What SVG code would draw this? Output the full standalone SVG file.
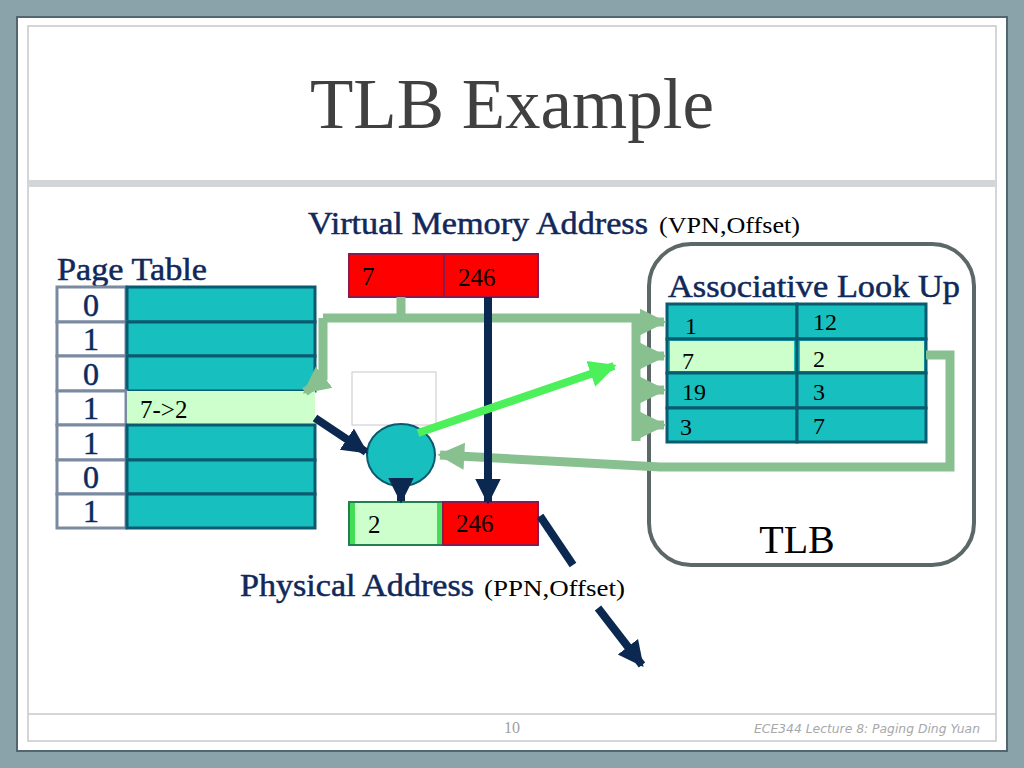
<svg xmlns="http://www.w3.org/2000/svg" width="1024" height="768" viewBox="0 0 1024 768">
<defs>
<style>
.lbl{font-family:"Liberation Serif",serif;fill:#10285a;font-size:31px;stroke:#10285a;stroke-width:0.5}
.t{font-family:"Liberation Serif",serif;fill:#000;font-size:25px}
.s{font-family:"Liberation Serif",serif;fill:#000;font-size:24px}
.dig{font-family:"Liberation Serif",serif;fill:#0a2a60;font-size:32px;text-anchor:middle;stroke:#0a2a60;stroke-width:0.5}
.bit{fill:#fff;stroke:#7a8aa0;stroke-width:3}
.teal{fill:#17bfbf;stroke:#0a5a70;stroke-width:3}
.lg{fill:#ccffcc}
.red{fill:#ff0000;stroke:#8a1a50;stroke-width:2}
.gline{fill:none;stroke:#88c090;stroke-width:9}
.navy{fill:none;stroke:#0a2850;stroke-width:8}
</style>
<marker id="gh" viewBox="0 0 10 10" refX="9" refY="5" markerWidth="3" markerHeight="3.2" orient="auto" markerUnits="strokeWidth"><path d="M0,0L10,5L0,10z" fill="#88c090"/></marker>
<marker id="nh" viewBox="0 0 10 10" refX="9" refY="5" markerWidth="3.2" markerHeight="3.6" orient="auto" markerUnits="strokeWidth"><path d="M0,0L10,5L0,10z" fill="#0a2850"/></marker>
<marker id="bh" viewBox="0 0 10 10" refX="9" refY="5" markerWidth="3.4" markerHeight="3.8" orient="auto" markerUnits="strokeWidth"><path d="M0,0L10,5L0,10z" fill="#4cf05a"/></marker>
</defs>
<rect width="1024" height="768" fill="#8aa3ab"/>
<rect x="17" y="17" width="990" height="734" fill="#fff" stroke="#51666e" stroke-width="2"/>
<rect x="28" y="26" width="968" height="715" fill="none" stroke="#c8c8c8" stroke-width="1.5"/>
<rect x="28" y="180" width="968" height="7" fill="#d3d6d8"/>
<line x1="28" y1="714" x2="996" y2="714" stroke="#c8c8c8" stroke-width="1.5"/>
<text x="512" y="128" text-anchor="middle" font-family="Liberation Serif,serif" font-size="71" fill="#404040">TLB Example</text>
<text x="512" y="733" text-anchor="middle" font-family="Liberation Serif,serif" font-size="16" fill="#a0a0a0">10</text>
<text x="980" y="733" text-anchor="end" font-family="DejaVu Sans,sans-serif" font-style="italic" font-size="13" fill="#a8a8a8" textLength="226" lengthAdjust="spacingAndGlyphs">ECE344 Lecture 8: Paging Ding Yuan</text>

<g id="page-table">
<text class="lbl" x="57" y="280" textLength="150" lengthAdjust="spacingAndGlyphs">Page Table</text>
<rect class="bit" x="57" y="287" width="69" height="35"/><rect class="teal" x="127" y="287" width="188" height="35"/>
<rect class="bit" x="57" y="322" width="69" height="34"/><rect class="teal" x="127" y="322" width="188" height="34"/>
<rect class="bit" x="57" y="356" width="69" height="35"/><rect class="teal" x="127" y="356" width="188" height="35"/>
<rect class="bit" x="57" y="391" width="69" height="34"/><rect class="lg" x="127" y="391" width="188" height="34"/>
<rect class="bit" x="57" y="425" width="69" height="35"/><rect class="teal" x="127" y="425" width="188" height="35"/>
<rect class="bit" x="57" y="460" width="69" height="34"/><rect class="teal" x="127" y="460" width="188" height="34"/>
<rect class="bit" x="57" y="494" width="69" height="34"/><rect class="teal" x="127" y="494" width="188" height="34"/>
<text class="dig" x="91" y="316">0</text>
<text class="dig" x="91" y="350">1</text>
<text class="dig" x="91" y="385">0</text>
<text class="dig" x="91" y="419">1</text>
<text class="dig" x="91" y="454">1</text>
<text class="dig" x="91" y="488">0</text>
<text class="dig" x="91" y="522">1</text>
<text class="t" x="140" y="418">7-&gt;2</text>
</g>

<g id="virtual-address">
<text class="lbl" x="308" y="234" textLength="340" lengthAdjust="spacingAndGlyphs">Virtual Memory Address</text>
<text class="s" x="659" y="233" textLength="141" lengthAdjust="spacingAndGlyphs">(VPN,Offset)</text>
<rect class="red" x="349" y="254" width="95" height="43"/>
<rect class="red" x="444" y="254" width="94" height="43"/>
<text class="t" x="362" y="285">7</text>
<text class="t" x="458" y="286">246</text>
</g>

<g id="tlb">
<rect x="649" y="244" width="325" height="321" rx="42" fill="#fff" stroke="#5c6868" stroke-width="4"/>
<text class="lbl" x="668" y="297" textLength="292" lengthAdjust="spacingAndGlyphs">Associative Look Up</text>
<rect x="667" y="304" width="260" height="139" fill="#8a90b0"/>
<rect class="teal" x="667" y="304" width="130" height="35"/><rect class="teal" x="797" y="304" width="129" height="35"/>
<rect class="teal" x="667" y="339" width="130" height="34"/><rect class="teal" x="797" y="339" width="129" height="34"/>
<rect class="lg" x="670" y="341" width="124" height="30"/><rect class="lg" x="800" y="341" width="124" height="30"/>
<rect class="teal" x="667" y="373" width="130" height="35"/><rect class="teal" x="797" y="373" width="129" height="35"/>
<rect class="teal" x="667" y="408" width="130" height="34"/><rect class="teal" x="797" y="408" width="129" height="34"/>
<text class="s" x="685" y="334">1</text><text class="s" x="813" y="330">12</text>
<text class="s" x="682" y="369">7</text><text class="s" x="813" y="367">2</text>
<text class="s" x="682" y="400">19</text><text class="s" x="813" y="400">3</text>
<text class="s" x="680" y="435">3</text><text class="s" x="813" y="434">7</text>
<text x="797" y="553" text-anchor="middle" font-family="Liberation Serif,serif" font-size="40" fill="#000">TLB</text>
</g>

<g id="mmu">
<rect x="352" y="372" width="84" height="53" fill="#fff" stroke="#c8c8c8" stroke-width="1"/>
<ellipse cx="401" cy="455" rx="34" ry="31" fill="#17bfbf" stroke="#0a5a70" stroke-width="2"/>
</g>

<g id="physical-address">
<rect x="349" y="502" width="94" height="43" fill="#ccffcc" stroke="#208050" stroke-width="2"/>
<rect x="350" y="503" width="5" height="41" fill="#44dd55"/>
<rect x="437" y="503" width="5" height="41" fill="#44dd55"/>
<rect class="red" x="443" y="502" width="95" height="43"/>
<text class="t" x="368" y="533">2</text>
<text class="t" x="456" y="532">246</text>
<text class="lbl" x="240" y="596" textLength="234" lengthAdjust="spacingAndGlyphs">Physical Address</text>
<text class="s" x="484" y="596" textLength="141" lengthAdjust="spacingAndGlyphs">(PPN,Offset)</text>
</g>

<g id="connectors">
<path class="gline" d="M401,297V318M323,318H636V441M323,318V380"/>
<path class="gline" d="M323,378L305,392" marker-end="url(#gh)"/>
<path class="gline" d="M636,322H664" marker-end="url(#gh)"/>
<path class="gline" d="M636,356H664" marker-end="url(#gh)"/>
<path class="gline" d="M636,390H664" marker-end="url(#gh)"/>
<path class="gline" d="M636,425H664" marker-end="url(#gh)"/>
<path class="gline" d="M926,355H950V467H660L440,455" marker-end="url(#gh)"/>
<path class="navy" d="M488,297V502" marker-end="url(#nh)"/>
<path class="navy" d="M401,486V501" marker-end="url(#nh)"/>
<path class="navy" d="M315,418L366,452" marker-end="url(#nh)"/>
<path fill="none" stroke="#4cf05a" stroke-width="8" d="M418,433L614,366" marker-end="url(#bh)"/>
<path class="navy" d="M540,516L573,565"/>
<path class="navy" d="M598,608L642,665" marker-end="url(#nh)"/>
</g>
</svg>
